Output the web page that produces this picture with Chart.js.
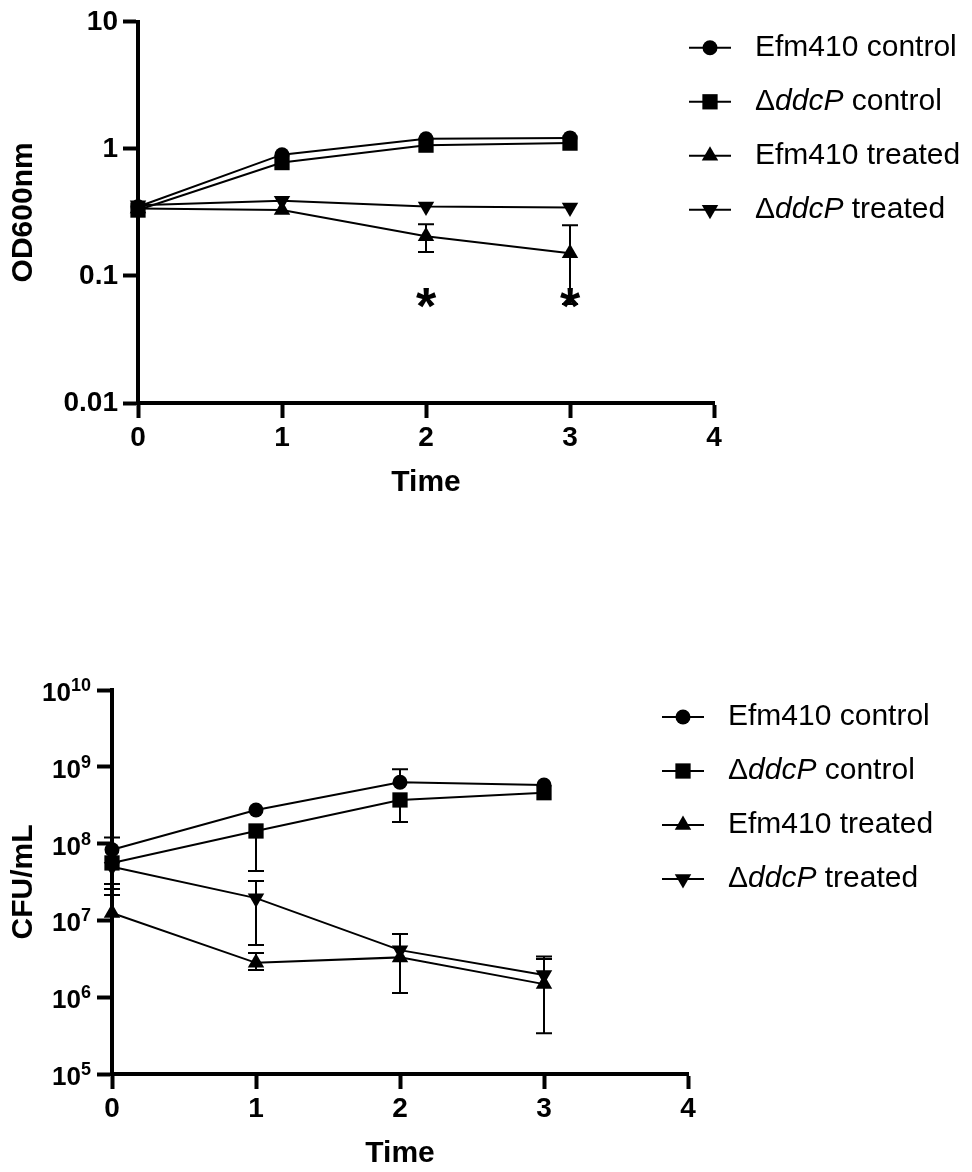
<!DOCTYPE html>
<html>
<head>
<meta charset="utf-8">
<script src="https://cdn.jsdelivr.net/npm/chart.js@4.4.0/dist/chart.umd.min.js"></script>
<style>
    html, body { margin: 0; padding: 0; background: #fff; }
    .panel { position: relative; width: 972px; height: 586px; }
</style>
</head>
<body>
<div class="panel"><canvas id="odChart" width="972" height="586"></canvas></div>
<div class="panel"><canvas id="cfuChart" width="972" height="586"></canvas></div>
<script>
// ---------------- DATA ----------------
const times = [0, 1, 2, 3];
const seriesNames = ['Efm410 control', 'ΔddcP control', 'Efm410 treated', 'ΔddcP treated'];

// OD600nm panel
const odEfmControl  = [0.35, 0.90, 1.20, 1.22];
const odDdcpControl = [0.33, 0.78, 1.07, 1.11];
const odEfmTreated  = [0.34, 0.33, 0.205, 0.151];
const odDdcpTreated = [0.36, 0.39, 0.352, 0.345];
// error bar ends (null = hidden behind the marker)
const odEfmTreatedLow  = [null, null, 0.154, 0.060];
const odEfmTreatedHigh = [null, null, 0.255, 0.25];
const odTicks = [0.01, 0.1, 1, 10];
const starTimes  = [2, 3];
const starValues = [0.067, 0.067];

// CFU/mL panel
const cfuEfmControl  = [8.3e7, 2.74e8, 6.3e8, 5.8e8];
const cfuDdcpControl = [5.6e7, 1.46e8, 3.7e8, 4.6e8];
const cfuEfmTreated  = [1.25e7, 2.8e6, 3.3e6, 1.48e6];
const cfuDdcpTreated = [5.0e7, 1.95e7, 4.1e6, 1.95e6];
const cfuEfmControlLow   = [null, null, null, null];
const cfuEfmControlHigh  = [1.2e8, null, 9.3e8, null];
const cfuDdcpControlLow  = [2.98e7, 4.4e7, 1.91e8, null];
const cfuDdcpControlHigh = [null, null, null, null];
const cfuEfmTreatedLow   = [null, 2.26e6, 1.13e6, 3.4e5];
const cfuEfmTreatedHigh  = [2.14e7, 3.77e6, null, 3.15e6];
const cfuDdcpTreatedLow  = [2.57e7, 4.8e6, null, null];
const cfuDdcpTreatedHigh = [null, 3.26e7, 6.65e6, 3.4e6];
const cfuTicks = [1e5, 1e6, 1e7, 1e8, 1e9, 1e10];

// ---------------- STYLE ----------------
const FONT = '"Liberation Sans", Arial, sans-serif';
Chart.defaults.font.family = FONT;
Chart.defaults.color = '#000';

const markers = [
    { style: 'circle',   radius: 7.5,  rotation: 0 },
    { style: 'rect',     radius: 10.8, rotation: 0 },
    { style: 'triangle', radius: 9.5,  rotation: 0 },
    { style: 'triangle', radius: 9.5,  rotation: 180 }
];

function makeDatasets(values, lows, highs) {
    return values.map((serie, k) => ({
        label: seriesNames[k],
        data: times.map((t, i) => ({ x: t, y: serie[i] })),
        errLow: lows[k],
        errHigh: highs[k],
        borderColor: '#000',
        backgroundColor: '#000',
        borderWidth: 2,
        pointStyle: markers[k].style,
        pointRadius: markers[k].radius,
        pointHoverRadius: markers[k].radius,
        pointRotation: markers[k].rotation,
        pointBorderWidth: 0,
        tension: 0,
        clip: false
    }));
}

function drawMarker(ctx, m, x, y) {
    ctx.beginPath();
    if (m.style === 'circle') {
        ctx.arc(x, y, m.radius, 0, Math.PI * 2);
    } else if (m.style === 'rect') {
        const s = m.radius * Math.SQRT1_2;
        ctx.rect(x - s, y - s, 2 * s, 2 * s);
    } else {
        const d = m.rotation ? -1 : 1;
        ctx.moveTo(x, y - d * m.radius);
        ctx.lineTo(x + m.radius * 0.866, y + d * m.radius / 2);
        ctx.lineTo(x - m.radius * 0.866, y + d * m.radius / 2);
        ctx.closePath();
    }
    ctx.fill();
}

// ---------------- PLUGINS ----------------
const errorBars = {
    id: 'errorBars',
    beforeDatasetsDraw(chart) {
        const { ctx } = chart;
        const xs = chart.scales.x, ys = chart.scales.y;
        ctx.save();
        ctx.strokeStyle = '#000';
        ctx.lineWidth = 2;
        chart.data.datasets.forEach(ds => {
            ds.data.forEach((p, i) => {
                const px = xs.getPixelForValue(p.x);
                const py = ys.getPixelForValue(p.y);
                [ds.errLow[i], ds.errHigh[i]].forEach(end => {
                    if (end == null) return;
                    const ey = ys.getPixelForValue(end);
                    ctx.beginPath();
                    ctx.moveTo(px, py);
                    ctx.lineTo(px, ey);
                    ctx.moveTo(px - 8, ey);
                    ctx.lineTo(px + 8, ey);
                    ctx.stroke();
                });
            });
        });
        ctx.restore();
    }
};

const stars = {
    id: 'stars',
    afterDatasetsDraw(chart, args, opts) {
        if (!opts.x) return;
        const { ctx } = chart;
        ctx.save();
        ctx.font = 'bold 52px ' + FONT;
        ctx.fillStyle = '#000';
        ctx.textAlign = 'center';
        ctx.textBaseline = 'alphabetic';
        const m = ctx.measureText('*');
        const mid = (m.actualBoundingBoxAscent - m.actualBoundingBoxDescent) / 2;
        opts.x.forEach((t, i) => {
            const px = chart.scales.x.getPixelForValue(t);
            const py = chart.scales.y.getPixelForValue(opts.y[i]);
            ctx.fillText('*', px, py + mid);
        });
        ctx.restore();
    }
};

const powerLabels = {
    id: 'powerLabels',
    afterDraw(chart, args, opts) {
        if (!opts.ticks) return;
        const { ctx } = chart;
        const ys = chart.scales.y;
        const right = chart.chartArea.left - 21;
        ctx.save();
        ctx.fillStyle = '#000';
        ctx.textAlign = 'left';
        ctx.textBaseline = 'alphabetic';
        opts.ticks.forEach(v => {
            const py = ys.getPixelForValue(v);
            const exp = String(Math.round(Math.log10(v)));
            ctx.font = 'bold 18px ' + FONT;
            const ew = ctx.measureText(exp).width;
            ctx.font = 'bold 26px ' + FONT;
            const bw = ctx.measureText('10').width;
            const base = py + 11;
            ctx.fillText('10', right - ew - bw, base);
            ctx.font = 'bold 18px ' + FONT;
            ctx.fillText(exp, right - ew, base - 10);
        });
        ctx.restore();
    }
};

const sideLegend = {
    id: 'sideLegend',
    afterDraw(chart, args, opts) {
        const { ctx, chartArea } = chart;
        const x0 = chartArea.right + opts.dx;
        ctx.save();
        ctx.fillStyle = '#000';
        ctx.strokeStyle = '#000';
        ctx.lineWidth = 2;
        ctx.textBaseline = 'middle';
        ctx.textAlign = 'left';
        chart.data.datasets.forEach((ds, k) => {
            const y = chartArea.top + opts.dy + k * 54;
            ctx.beginPath();
            ctx.moveTo(x0 - 21, y);
            ctx.lineTo(x0 + 21, y);
            ctx.stroke();
            drawMarker(ctx, markers[k], x0, y);
            let tx = x0 + 45;
            ds.label.split(/(ddcP)/).forEach(part => {
                if (!part) return;
                ctx.font = (part === 'ddcP' ? 'italic ' : '') + '30px ' + FONT;
                ctx.fillText(part, tx, y);
                tx += ctx.measureText(part).width;
            });
        });
        ctx.restore();
    }
};

// ---------------- CHARTS ----------------
function axisLook() {
    return {
        border: { color: '#000', width: 4 },
        grid: { drawOnChartArea: false, tickLength: 15, tickWidth: 4, tickColor: '#000' }
    };
}

function makeChart(id, cfg) {
    return new Chart(document.getElementById(id), {
        type: 'line',
        data: { datasets: makeDatasets(cfg.values, cfg.lows, cfg.highs) },
        plugins: cfg.plugins,
        options: {
            responsive: false,
            animation: false,
            events: [],
            layout: { padding: cfg.padding },
            plugins: {
                legend: { display: false },
                tooltip: { enabled: false },
                sideLegend: cfg.legend,
                stars: cfg.stars || {},
                powerLabels: cfg.power || {}
            },
            scales: {
                x: {
                    type: 'linear', min: 0, max: 4,
                    ...axisLook(),
                    afterFit: s => { s.height = 98; },
                    ticks: { stepSize: 1, padding: 3, color: '#000', font: { size: 28, weight: 'bold' } },
                    title: { display: true, text: 'Time', color: '#000', font: { size: 30, weight: 'bold' }, padding: 0 }
                },
                y: {
                    type: 'logarithmic', min: cfg.ticks[0], max: cfg.ticks[cfg.ticks.length - 1],
                    ...axisLook(),
                    afterBuildTicks: s => { s.ticks = cfg.ticks.map(v => ({ value: v })); },
                    afterFit: s => { s.width = cfg.yWidth; },
                    ticks: {
                        autoSkip: false, padding: 5, color: '#000',
                        font: { size: 28, weight: 'bold' },
                        callback: cfg.tickLabel
                    },
                    title: { display: true, text: cfg.yTitle, color: '#000', font: { size: 30, weight: 'bold' }, padding: { top: 6, bottom: 0 } }
                }
            }
        }
    });
}

makeChart('odChart', {
    values: [odEfmControl, odDdcpControl, odEfmTreated, odDdcpTreated],
    lows:  [[null, null, null, null], [null, null, null, null], odEfmTreatedLow, [null, null, null, null]],
    highs: [[null, null, null, null], [null, null, null, null], odEfmTreatedHigh, [null, null, null, null]],
    ticks: odTicks,
    tickLabel: v => String(v),
    yTitle: 'OD600nm',
    yWidth: 138,
    padding: { top: 19, right: 258, bottom: 85, left: 0 },
    legend: { dx: -4, dy: 26 },
    stars: { x: starTimes, y: starValues },
    plugins: [errorBars, stars, sideLegend]
});

makeChart('cfuChart', {
    values: [cfuEfmControl, cfuDdcpControl, cfuEfmTreated, cfuDdcpTreated],
    lows:  [cfuEfmControlLow, cfuDdcpControlLow, cfuEfmTreatedLow, cfuDdcpTreatedLow],
    highs: [cfuEfmControlHigh, cfuDdcpControlHigh, cfuEfmTreatedHigh, cfuDdcpTreatedHigh],
    ticks: cfuTicks,
    tickLabel: () => '',
    yTitle: 'CFU/mL',
    yWidth: 112,
    padding: { top: 104, right: 284, bottom: 0, left: 0 },
    legend: { dx: -5, dy: 27 },
    power: { ticks: cfuTicks },
    plugins: [errorBars, powerLabels, sideLegend]
});
</script>
</body>
</html>
